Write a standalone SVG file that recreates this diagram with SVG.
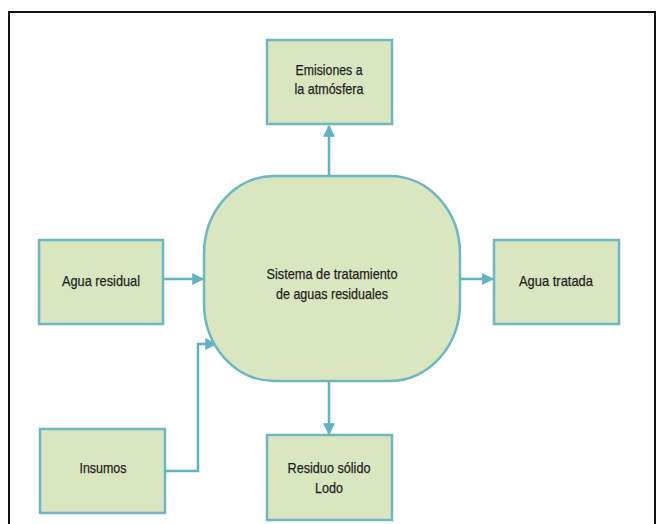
<svg xmlns="http://www.w3.org/2000/svg" width="657" height="524" viewBox="0 0 657 524">
<defs>
<style>
.box{fill:#d9e6bf;stroke:#6cb6c6;stroke-width:2.5}
.lbl{font-family:"Liberation Sans",Arial,sans-serif;font-size:15px;fill:#1f1f1f;text-anchor:middle;stroke:#1f1f1f;stroke-width:0.25}
.con{fill:none;stroke:#62b2c6;stroke-width:2.5}
</style>
<marker id="ah" viewBox="0 0 10 10" refX="9" refY="5" markerWidth="4.8" markerHeight="4.8" orient="auto" markerUnits="strokeWidth">
<path d="M0,0 L10,5 L0,10 Z" fill="#62b2c6"/>
</marker>
</defs>
<rect width="657" height="524" fill="#ffffff"/>
<path d="M9,524 V12 H655 V524" fill="none" stroke="#111" stroke-width="2"/>
<g id="connectors">
<path class="con" d="M329,176 V126" marker-end="url(#ah)"/>
<path class="con" d="M164,279 H203" marker-end="url(#ah)"/>
<path class="con" d="M461,279 H493" marker-end="url(#ah)"/>
<path class="con" d="M329,382 V434" marker-end="url(#ah)"/>
<path class="con" d="M166,471 H198 V344 H216" marker-end="url(#ah)"/>
</g>
<g id="central">
<rect class="box" x="204" y="176" width="256" height="205" rx="70" ry="78"/>
<text class="lbl" x="332" y="279" textLength="131" lengthAdjust="spacingAndGlyphs">Sistema de tratamiento</text>
<text class="lbl" x="332" y="299" textLength="112" lengthAdjust="spacingAndGlyphs">de aguas residuales</text>
</g>
<g id="emisiones">
<rect class="box" x="267" y="40" width="125" height="84"/>
<text class="lbl" x="329" y="75" textLength="67" lengthAdjust="spacingAndGlyphs">Emisiones a</text>
<text class="lbl" x="329" y="94" textLength="69" lengthAdjust="spacingAndGlyphs">la atmósfera</text>
</g>
<g id="agua-residual">
<rect class="box" x="39" y="240" width="124" height="84"/>
<text class="lbl" x="101" y="286" textLength="78" lengthAdjust="spacingAndGlyphs">Agua residual</text>
</g>
<g id="agua-tratada">
<rect class="box" x="494" y="240" width="125" height="84"/>
<text class="lbl" x="556" y="286" textLength="74" lengthAdjust="spacingAndGlyphs">Agua tratada</text>
</g>
<g id="insumos">
<rect class="box" x="40" y="429" width="125" height="84"/>
<text class="lbl" x="103" y="473" textLength="47" lengthAdjust="spacingAndGlyphs">Insumos</text>
</g>
<g id="residuo">
<rect class="box" x="267" y="435" width="125" height="85"/>
<text class="lbl" x="329" y="473" textLength="83" lengthAdjust="spacingAndGlyphs">Residuo sólido</text>
<text class="lbl" x="329" y="493" textLength="28" lengthAdjust="spacingAndGlyphs">Lodo</text>
</g>
</svg>
